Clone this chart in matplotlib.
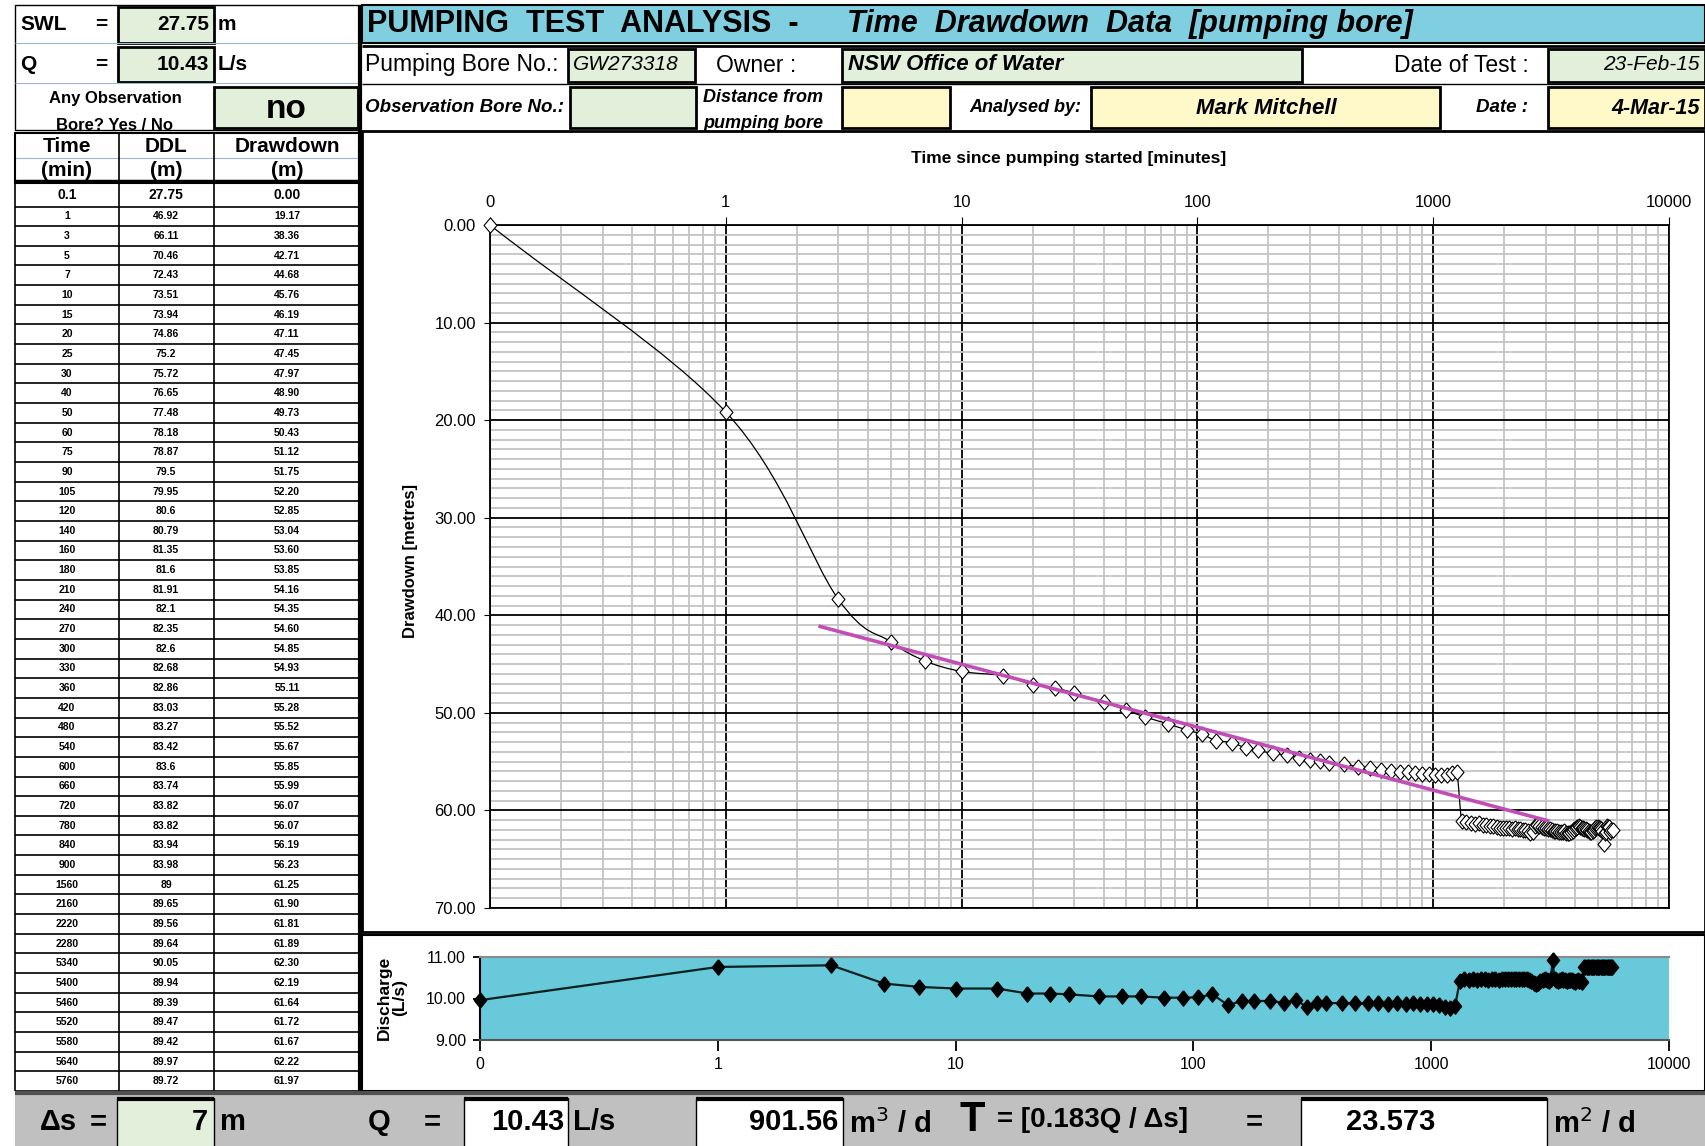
import numpy as np
import matplotlib
matplotlib.use('Agg')
import matplotlib.pyplot as plt
from matplotlib.patches import Rectangle, PathPatch
from matplotlib.path import Path
from matplotlib.ticker import LogLocator, MultipleLocator, NullFormatter, FixedLocator, FixedFormatter

plt.rcParams['font.family'] = ['Liberation Sans', 'DejaVu Sans']

# --- values ---
swl = 27.75
q_ls = 10.43
q_m3d = 901.56
delta_s = 7
transmissivity = 23.573

# time since pumping started (min)
time_min = [0.1, 1, 3, 5, 7, 10, 15, 20, 25, 30, 40, 50, 60, 75, 90, 105, 120, 140, 160, 180,
            210, 240, 270, 300, 330, 360, 420, 480, 540, 600, 660, 720, 780, 840, 900, 960,
            1020, 1080, 1140, 1200, 1260] + list(range(1320, 5761, 60))

drawdown_m = [0.00, 19.17, 38.36, 42.71, 44.68, 45.76, 46.19, 47.11, 47.45, 47.97,
              48.90, 49.73, 50.43, 51.12, 51.75, 52.20, 52.85, 53.04, 53.60, 53.85,
              54.16, 54.35, 54.60, 54.85, 54.93, 55.11, 55.28, 55.52, 55.67, 55.85,
              55.99, 56.07, 56.07, 56.19, 56.23, 56.28, 56.32, 56.35, 56.38, 56.15,
              56.05,
              61.10, 61.20, 61.30, 61.35, 61.25, 61.45, 61.50, 61.60, 61.55, 61.70,
              61.75, 61.80, 61.85, 61.80, 61.90, 61.81, 61.89, 61.95, 62.00, 62.05,
              62.10, 62.30, 62.20, 61.60, 61.50, 61.55, 61.70, 61.75, 61.85, 61.90,
              61.95, 62.05, 62.10, 62.15, 62.10, 62.20, 62.25, 62.20, 62.15, 62.30,
              62.35, 62.30, 62.25, 62.10, 61.95, 61.85, 61.70, 61.60, 61.65, 61.75,
              61.80, 61.90, 61.95, 62.00, 62.10, 62.20, 62.25, 62.15, 62.05, 61.85,
              61.70, 61.65, 61.75, 61.80, 61.95, 62.10, 63.40, 62.30, 62.19, 61.64,
              61.72, 61.67, 62.22, 62.05, 61.97]

discharge_ls = [9.96, 10.76, 10.80, 10.36, 10.28, 10.24, 10.24, 10.12, 10.12, 10.10,
                10.05, 10.05, 10.05, 10.02, 10.02, 10.03, 10.10, 9.84, 9.94, 9.94,
                9.94, 9.90, 9.96, 9.80, 9.89, 9.89, 9.89, 9.88, 9.88, 9.88,
                9.87, 9.88, 9.87, 9.88, 9.87, 9.86, 9.87, 9.84, 9.80, 9.78,
                9.82,
                10.42, 10.46, 10.45, 10.46, 10.45, 10.46, 10.46, 10.45, 10.46, 10.46,
                10.45, 10.46, 10.47, 10.46, 10.46, 10.47, 10.46, 10.46, 10.47, 10.46,
                10.46, 10.45, 10.42, 10.38, 10.36, 10.38, 10.42, 10.45, 10.46, 10.44,
                10.42, 10.46, 10.92, 10.46, 10.44, 10.42, 10.44, 10.46, 10.45, 10.44,
                10.42, 10.44, 10.45, 10.44, 10.42, 10.40, 10.42, 10.44, 10.43, 10.42,
                10.40, 10.76, 10.76, 10.75, 10.76, 10.77, 10.76, 10.76, 10.75, 10.76,
                10.76, 10.77, 10.76, 10.76, 10.75, 10.76, 10.76, 10.77, 10.76, 10.75,
                10.76, 10.76, 10.77, 10.76, 10.76]

# rows shown in the left-hand table
table_times = [0.1, 1, 3, 5, 7, 10, 15, 20, 25, 30, 40, 50, 60, 75, 90, 105, 120, 140, 160,
               180, 210, 240, 270, 300, 330, 360, 420, 480, 540, 600, 660, 720, 780, 840, 900,
               1560, 2160, 2220, 2280, 5340, 5400, 5460, 5520, 5580, 5640, 5760]

# straight-line fit drawn on the semi-log plot
trend_t = [2.47, 3110]
trend_s = [41.1, 61.1]

x_ticks = [0.1, 1, 10, 100, 1000, 10000]
x_ticklabels = ['0', '1', '10', '100', '1000', '10000']

GREEN = '#E2EFDA'
YELLOW = '#FFF8C8'
CYAN = '#80CFE0'
TEAL = '#68C9DA'
GREY = '#C0C0C0'
MAGENTA = '#C24DB6'

W, H = 1705, 1146
fig = plt.figure(figsize=(W / 100, H / 100), dpi=100)
bg = fig.add_axes([0, 0, 1, 1])
bg.set_xlim(0, W)
bg.set_ylim(H, 0)
bg.axis('off')


def frac(x0, y0, x1, y1):
    return [x0 / W, 1 - y1 / H, (x1 - x0) / W, (y1 - y0) / H]


def box(x0, y0, x1, y1, fc='none', ec='black', lw=1.0, z=1):
    bg.add_patch(Rectangle((x0, y0), x1 - x0, y1 - y0, facecolor=fc, edgecolor=ec, linewidth=lw, zorder=z))


def hline(y, x0, x1, lw=1.0, c='black'):
    bg.plot([x0, x1], [y, y], color=c, lw=lw, solid_capstyle='butt', zorder=3)


def vline(x, y0, y1, lw=1.0, c='black'):
    bg.plot([x, x], [y0, y1], color=c, lw=lw, solid_capstyle='butt', zorder=3)


def txt(x, y, s, size, ha='left', weight='bold', style='normal', clip=None, **kw):
    t = bg.text(x, y, s, fontsize=size, ha=ha, va='center', fontweight=weight,
                fontstyle=style, zorder=5, **kw)
    if clip is not None:
        r = Rectangle((clip[0], clip[1]), clip[2] - clip[0], clip[3] - clip[1], transform=bg.transData)
        t.set_clip_path(r)
    return t


# ---------------- left block ----------------
box(15, 5, 360, 130, fc='white', lw=1)
hline(43, 15, 360, 0.8, '#9bb7d4')
hline(83, 15, 360, 0.8, '#9bb7d4')
txt(20, 25, 'SWL', 15)
txt(101, 25, '=', 15, ha='center')
box(118, 7, 214, 43, fc=GREEN, lw=2)
txt(209, 25, f'{swl:.2f}', 15, ha='right')
txt(218, 25, 'm', 15)
txt(20, 64, 'Q', 15)
txt(101, 64, '=', 15, ha='center')
box(118, 47, 214, 82, fc=GREEN, lw=2)
txt(209, 64, f'{q_ls:.2f}', 15, ha='right')
txt(218, 64, 'L/s', 15)
txt(115, 98, 'Any Observation', 12, ha='center')
txt(115, 126, 'Bore? Yes / No', 12, ha='center', clip=(15, 85, 214, 129))
box(214, 87, 358, 128, fc=GREEN, lw=2)
txt(286, 109, 'no', 24, ha='center')

# table header
box(15, 133, 360, 183, fc='white', lw=1.5)
hline(158, 15, 360, 0.8, '#9bb7d4')
for cx, a, b in [(67, 'Time', '(min)'), (166, 'DDL', '(m)'), (287, 'Drawdown', '(m)')]:
    txt(cx, 146, a, 15, ha='center')
    txt(cx, 171, b, 15, ha='center')
vline(119, 133, 183, 1.2)
vline(214, 133, 183, 1.2)
hline(181, 15, 360, 2.5)

# table body
dd_lookup = dict(zip(time_min, drawdown_m))
row_top = [183.0, 206.5]
rh = (1091 - 206.5) / (len(table_times) - 1)
for i in range(1, len(table_times)):
    row_top.append(206.5 + i * rh)
for i, t in enumerate(table_times):
    y0, y1 = row_top[i], row_top[i + 1]
    yc = (y0 + y1) / 2
    dd = dd_lookup[t]
    ddl = round(swl + dd, 2)
    fs = 10 if i == 0 else 7.5
    txt(67, yc, f'{t:g}', fs, ha='center')
    txt(166, yc, f'{ddl:g}', fs, ha='center')
    txt(287, yc, f'{dd:.2f}', fs, ha='center')
    hline(y1, 15, 360, 1.2)
vline(15, 133, 1091, 1.2)
vline(119, 183, 1091, 1.2)
vline(214, 183, 1091, 1.2)
vline(360, 5, 1091, 3)

# ---------------- header rows (right) ----------------
box(362, 5, 1705, 43, fc=CYAN, lw=1.5)
txt(367, 24, 'PUMPING  TEST  ANALYSIS  -', 22)
txt(847, 24, 'Time  Drawdown  Data  [pumping bore]', 22, style='italic')
hline(46, 362, 1705, 2)

txt(365, 65, 'Pumping Bore No.:', 16.5, weight='normal')
box(568, 49, 695, 82, fc=GREEN, lw=2)
txt(573, 65, 'GW273318', 15, weight='normal', style='italic')
txt(756, 65, 'Owner :', 16.5, ha='center', weight='normal')
box(842, 49, 1302, 82, fc=GREEN, lw=2)
txt(848, 65, 'NSW Office of Water', 16, style='italic')
txt(1529, 65, 'Date of Test :', 16.5, ha='right', weight='normal')
box(1548, 49, 1705, 82, fc=GREEN, lw=2)
txt(1700, 65, '23-Feb-15', 15, ha='right', weight='normal', style='italic')
hline(84, 362, 1705, 1)

txt(365, 108, 'Observation Bore No.:', 13.5, style='italic')
box(570, 87, 696, 128, fc=GREEN, lw=2)
txt(703, 98, 'Distance from', 13, style='italic')
txt(703, 124, 'pumping bore', 13, style='italic', clip=(700, 87, 842, 129))
box(842, 87, 950, 128, fc=YELLOW, lw=2)
txt(1025, 108, 'Analysed by:', 13, ha='center', style='italic')
box(1091, 87, 1440, 128, fc=YELLOW, lw=2)
txt(1266, 108, 'Mark Mitchell', 16, ha='center', style='italic')
txt(1528, 108, 'Date :', 13.5, ha='right', style='italic')
box(1548, 87, 1705, 128, fc=YELLOW, lw=2)
txt(1700, 108, '4-Mar-15', 15.5, ha='right', style='italic')

# chart panels
box(362, 131, 1705, 932, fc='white', lw=2)
box(362, 935, 1705, 1091, fc='white', lw=1.5)

txt(1069, 159, 'Time since pumping started [minutes]', 12.5, ha='center')
bg.text(411, 561, 'Drawdown [metres]', fontsize=12, fontweight='bold', rotation=90,
        ha='center', va='center', zorder=5)
bg.text(392, 998, 'Discharge\n(L/s)', fontsize=12.5, fontweight='bold', rotation=90,
        ha='center', va='center', linespacing=1.1, zorder=5)


def smooth_path(x, y):
    # Excel-style smoothed line, built in log-x space
    lx = np.log10(np.asarray(x, float))
    y = np.asarray(y, float)
    px = np.concatenate([[2 * lx[0] - lx[1]], lx, [2 * lx[-1] - lx[-2]]])
    py = np.concatenate([[2 * y[0] - y[1]], y, [2 * y[-1] - y[-2]]])
    verts = [(lx[0], y[0])]
    codes = [Path.MOVETO]
    for i in range(1, len(px) - 2):
        c1 = (px[i] + (px[i + 1] - px[i - 1]) / 6, py[i] + (py[i + 1] - py[i - 1]) / 6)
        c2 = (px[i + 1] - (px[i + 2] - px[i]) / 6, py[i + 1] - (py[i + 2] - py[i]) / 6)
        verts += [c1, c2, (px[i + 1], py[i + 1])]
        codes += [Path.CURVE4] * 3
    verts = np.array(verts)
    verts[:, 0] = 10 ** verts[:, 0]
    return Path(verts, codes)


diamond = [(0, 1), (0.85, 0), (0, -1), (-0.85, 0), (0, 1)]

# ---------------- drawdown chart ----------------
ax = fig.add_axes(frac(490, 225, 1669, 908))
ax.set_xscale('log')
ax.set_xlim(0.1, 10000)
ax.set_ylim(70, 0)
ax.xaxis.tick_top()
ax.xaxis.set_major_locator(FixedLocator(x_ticks))
ax.xaxis.set_major_formatter(FixedFormatter(x_ticklabels))
ax.xaxis.set_minor_locator(LogLocator(base=10, subs=np.arange(2, 10)))
ax.xaxis.set_minor_formatter(NullFormatter())
ax.set_yticks(np.arange(0, 71, 10))
ax.set_yticklabels([f'{v:.2f}' for v in np.arange(0, 71, 10)])
ax.yaxis.set_minor_locator(MultipleLocator(1))
ax.grid(which='minor', color='#c4c4c4', lw=1.3)
ax.grid(which='major', color='black', lw=1.3)
ax.set_axisbelow(True)
ax.tick_params(which='minor', length=0)
ax.tick_params(axis='x', which='major', length=6, pad=5, labelsize=12)
ax.tick_params(axis='y', which='major', length=4, pad=6, labelsize=12)
for s in ax.spines.values():
    s.set_linewidth(1.3)

ax.add_patch(PathPatch(smooth_path(time_min, drawdown_m), facecolor='none', edgecolor='black',
                       lw=0.9, zorder=3))
ax.plot(trend_t, trend_s, color=MAGENTA, lw=2.6, zorder=5, solid_capstyle='butt')
ax.plot(time_min, drawdown_m, linestyle='none', marker=diamond, ms=11, mfc='white',
        mec='black', mew=0.8, zorder=4, clip_on=False)

# ---------------- discharge chart ----------------
ax2 = fig.add_axes(frac(480, 957, 1669, 1040))
ax2.set_facecolor(TEAL)
ax2.set_xscale('log')
ax2.set_xlim(0.1, 10000)
ax2.set_ylim(9, 11)
ax2.xaxis.set_major_locator(FixedLocator(x_ticks))
ax2.xaxis.set_major_formatter(FixedFormatter(x_ticklabels))
ax2.xaxis.set_minor_locator(FixedLocator([]))
ax2.set_yticks([9, 10, 11])
ax2.set_yticklabels(['9.00', '10.00', '11.00'])
ax2.tick_params(axis='x', length=8, width=1.3, pad=4, labelsize=11.5)
ax2.tick_params(axis='y', length=5, width=1.3, pad=5, labelsize=11.5)
ax2.spines['right'].set_visible(False)
ax2.spines['top'].set_color('#8a8a8a')
ax2.spines['bottom'].set_color('#555555')
for s in ax2.spines.values():
    s.set_linewidth(1.5)
ax2.plot(time_min, discharge_ls, color='#062020', lw=1.6, marker=[(0, 1), (0.8, 0), (0, -1), (-0.8, 0), (0, 1)],
         ms=11, mfc='black', mec='black', zorder=4, clip_on=False)

# ---------------- bottom bar ----------------
box(15, 1093, 1705, 1146, fc=GREY, ec=GREY, lw=0)
hline(1093, 15, 1705, 3, '#505050')
yb = 1122
txt(40, yb, 'Δs', 21)
txt(98, yb, '=', 21, ha='center')
for x0, x1, fc in [(117, 214, GREEN), (464, 568, 'white'), (696, 843, 'white'), (1301, 1547, 'white')]:
    box(x0, 1098, x1, 1148, fc=fc, ec='black', lw=1)
    hline(1099, x0, x1, 3)
txt(208, yb, f'{delta_s:g}', 21, ha='right')
txt(220, yb, 'm', 21)
txt(368, yb, 'Q', 21)
txt(432, yb, '=', 21, ha='center')
txt(564, yb, f'{q_ls:.2f}', 21, ha='right')
txt(573, yb, 'L/s', 21)
txt(838, yb, f'{q_m3d:.2f}', 21, ha='right')
txt(849, yb + 2, 'm$^3$ / d', 21)
txt(960, yb - 2, 'T', 30)
txt(997, yb - 2, '= [0.183Q / Δs]', 20)
txt(1254, yb, '=', 21, ha='center')
txt(1391, yb, f'{transmissivity:.3f}', 21, ha='center')
txt(1553, yb + 2, 'm$^2$ / d', 21)

fig.savefig('out.png', dpi=100)
